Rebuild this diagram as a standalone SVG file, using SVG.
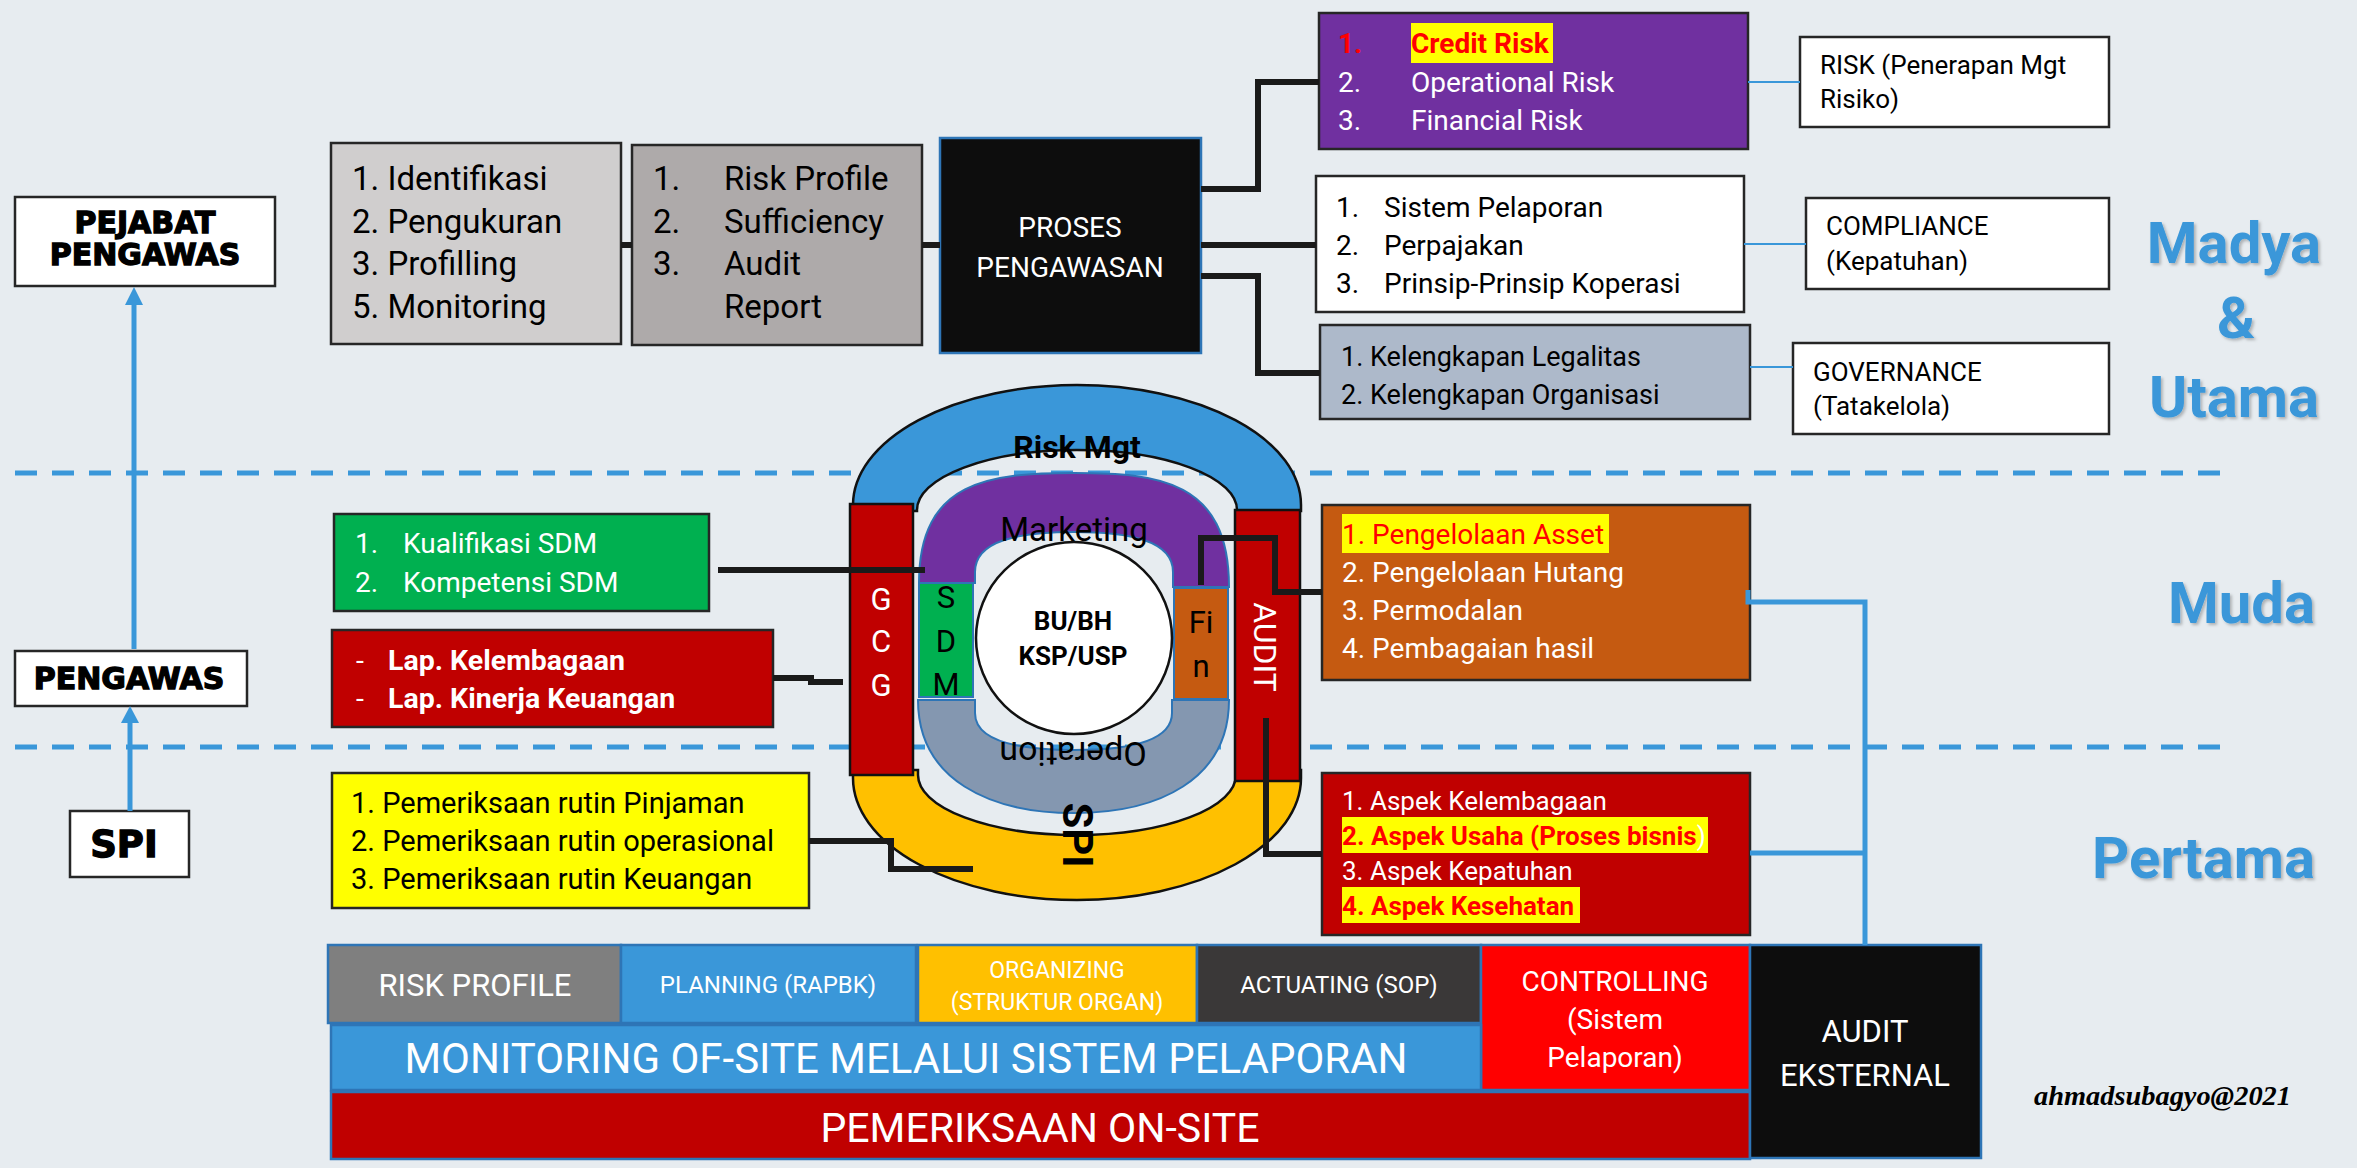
<svg xmlns="http://www.w3.org/2000/svg" width="2357" height="1168" viewBox="0 0 2357 1168">
<style>
text{font-family:Roboto,"Noto Sans",sans-serif;}
.w{fill:#ffffff}
.k{fill:#000000}
.r{fill:#ff0000}
.bd{font-weight:bold}
.mid{text-anchor:middle}
.end{text-anchor:end}
.box{stroke:#262626;stroke-width:2.5}
.bb{stroke:#2E75B6;stroke-width:2.5}
.sh{stroke:#111;stroke-width:2.5}
.conn{fill:none;stroke:#1A1A1A;stroke-width:6}
.thin{fill:none;stroke:#3A97D9;stroke-width:2}
.blue{fill:none;stroke:#3A97D9;stroke-width:5}
.dash{fill:none;stroke:#3A97D9;stroke-width:5;stroke-dasharray:22 15}
.hv{font-family:"DejaVu Sans",sans-serif;font-weight:bold;fill:#000;stroke:#000;stroke-width:1.3}
.lvl{font-weight:bold;fill:#3A97D9;font-size:58px;filter:url(#shd)}
</style>
<defs>
<filter id="shd" x="-10%" y="-10%" width="120%" height="130%">
<feDropShadow dx="2" dy="2" stdDeviation="1.5" flood-color="#000" flood-opacity="0.25"/>
</filter>
</defs>
<rect x="0" y="0" width="2357" height="1168" fill="#E7ECF0"/>

<g id="dashed-lines">
<line class="dash" x1="15" y1="473" x2="2229" y2="473"/>
<line class="dash" x1="15" y1="747" x2="2229" y2="747"/>
</g>

<g id="level-labels">
<text class="lvl mid" x="2234" y="263">Madya</text>
<text class="lvl mid" x="2236" y="338">&amp;</text>
<text class="lvl mid" x="2234" y="417">Utama</text>
<text class="lvl end" x="2315" y="623">Muda</text>
<text class="lvl end" x="2315" y="878">Pertama</text>
</g>

<g id="pejabat-pengawas">
<rect x="15" y="197" width="260" height="89" fill="#fff" class="box"/>
<text class="hv mid" x="145" y="233" font-size="30">PEJABAT</text>
<text class="hv mid" x="145" y="265" font-size="30">PENGAWAS</text>
</g>
<g id="pengawas">
<rect x="15" y="651" width="232" height="55" fill="#fff" class="box"/>
<text class="hv mid" x="129" y="689" font-size="30">PENGAWAS</text>
</g>
<g id="spi">
<rect x="70" y="811" width="119" height="66" fill="#fff" class="box"/>
<text class="hv mid" x="124" y="857" font-size="37">SPI</text>
</g>

<g id="identifikasi">
<rect x="331" y="143" width="290" height="201" fill="#D0CECE" class="box"/>
<g font-size="33" class="k">
<text x="352" y="190">1. Identifikasi</text>
<text x="352" y="232.5">2. Pengukuran</text>
<text x="352" y="275">3. Profilling</text>
<text x="352" y="317.5">5. Monitoring</text>
</g>
</g>
<g id="risk-profile-list">
<rect x="632" y="145" width="290" height="200" fill="#AEAAAA" class="box"/>
<g font-size="33" class="k">
<text x="653" y="190">1.</text><text x="724" y="190">Risk Profile</text>
<text x="653" y="232.5">2.</text><text x="724" y="232.5">Sufficiency</text>
<text x="653" y="275">3.</text><text x="724" y="275">Audit</text>
<text x="724" y="317.5">Report</text>
</g>
</g>
<g id="proses-pengawasan">
<rect x="940" y="138" width="261" height="215" fill="#0D0D0D" class="bb"/>
<text class="w mid" x="1070" y="237" font-size="28">PROSES</text>
<text class="w mid" x="1070" y="277" font-size="28">PENGAWASAN</text>
</g>

<g id="risk-list">
<rect x="1319" y="13" width="429" height="136" fill="#7030A0" class="box"/>
<rect x="1411" y="23" width="142" height="40" fill="#FFFF00"/>
<g font-size="28">
<text class="r bd" x="1338" y="53">1.</text><text class="r bd" x="1411" y="53">Credit Risk</text>
<text class="w" x="1338" y="92">2.</text><text class="w" x="1411" y="92">Operational Risk</text>
<text class="w" x="1338" y="130">3.</text><text class="w" x="1411" y="130">Financial Risk</text>
</g>
</g>
<g id="compliance-list">
<rect x="1316" y="176" width="428" height="136" fill="#fff" class="box"/>
<g font-size="28" class="k">
<text x="1336" y="217">1.</text><text x="1384" y="217">Sistem Pelaporan</text>
<text x="1336" y="255">2.</text><text x="1384" y="255">Perpajakan</text>
<text x="1336" y="293">3.</text><text x="1384" y="293">Prinsip-Prinsip Koperasi</text>
</g>
</g>
<g id="governance-list">
<rect x="1320" y="325" width="430" height="94" fill="#ADB9CA" class="box"/>
<g font-size="27" class="k">
<text x="1341" y="366">1. Kelengkapan Legalitas</text>
<text x="1341" y="404">2. Kelengkapan Organisasi</text>
</g>
</g>
<g id="risk-label">
<rect x="1800" y="37" width="309" height="90" fill="#fff" class="box"/>
<text class="k" x="1820" y="74" font-size="26">RISK (Penerapan Mgt</text>
<text class="k" x="1820" y="108" font-size="26">Risiko)</text>
</g>
<g id="compliance-label">
<rect x="1806" y="198" width="303" height="91" fill="#fff" class="box"/>
<text class="k" x="1826" y="235" font-size="26">COMPLIANCE</text>
<text class="k" x="1826" y="270" font-size="26">(Kepatuhan)</text>
</g>
<g id="governance-label">
<rect x="1793" y="343" width="316" height="91" fill="#fff" class="box"/>
<text class="k" x="1813" y="381" font-size="26">GOVERNANCE</text>
<text class="k" x="1813" y="415" font-size="26">(Tatakelola)</text>
</g>

<g id="sdm-list">
<rect x="334" y="514" width="375" height="97" fill="#00B050" class="box"/>
<g font-size="28" class="w">
<text x="355" y="553">1.</text><text x="403" y="553">Kualifikasi SDM</text>
<text x="355" y="592">2.</text><text x="403" y="592">Kompetensi SDM</text>
</g>
</g>
<g id="lap-list">
<rect x="332" y="630" width="441" height="97" fill="#C00000" class="box"/>
<g font-size="28.5" class="w">
<text x="356" y="670">-</text><text class="bd" x="388" y="670">Lap. Kelembagaan</text>
<text x="356" y="708">-</text><text class="bd" x="388" y="708">Lap. Kinerja Keuangan</text>
</g>
</g>
<g id="pemeriksaan-list">
<rect x="332" y="773" width="477" height="135" fill="#FFFF00" class="box"/>
<g font-size="29" class="k">
<text x="351" y="813">1. Pemeriksaan rutin Pinjaman</text>
<text x="351" y="851">2. Pemeriksaan rutin operasional</text>
<text x="351" y="889">3. Pemeriksaan rutin Keuangan</text>
</g>
</g>

<g id="center-diagram">
<path id="arch-risk-mgt" d="M853,511 L853,505 A224,120 0 0 1 1301,505 L1301,511 L1237,511 L1237,510 A160,60 0 0 0 917,510 L917,511 Z" fill="#3A97D9" class="sh"/>
<path id="arch-spi" d="M853,770 L853,778 A224,122 0 0 0 1301,778 L1301,770 L1236,770 L1236,775 A159,60 0 0 1 918,775 L918,770 Z" fill="#FFC000" class="sh"/>
<path id="arch-marketing" d="M919,583 C919,480 990,473 1074,473 C1158,473 1229,480 1229,587 L1173,587 L1173,572 C1173,540 1128,532 1074,532 C1020,532 975,540 975,572 L975,583 Z" fill="#7030A0" stroke="#2E75B6" stroke-width="2"/>
<path id="arch-operation" d="M918,700 C918,780 990,813 1074,813 C1158,813 1229,780 1229,700 L1172,700 L1172,713 C1172,742 1128,750 1074,750 C1020,750 975,742 975,713 L975,700 Z" fill="#8497B0" stroke="#2E75B6" stroke-width="2"/>
<rect id="sdm" x="919" y="583" width="54" height="114" fill="#00B050" stroke="#2E75B6" stroke-width="2"/>
<rect id="fin" x="1174" y="588" width="54" height="111" fill="#C55A11" stroke="#2E75B6" stroke-width="2"/>
<ellipse id="bu-bh" cx="1074" cy="638" rx="98" ry="96" fill="#fff" class="sh"/>
<rect id="gcg" x="850" y="504" width="63" height="271" fill="#C00000" class="sh"/>
<rect id="audit" x="1235" y="510" width="65" height="271" fill="#C00000" class="sh"/>
<text class="k bd mid" x="1077" y="458" font-size="32">Risk Mgt</text>
<text class="k mid" x="1074" y="541" font-size="33">Marketing</text>
<text class="k mid" x="1073" y="766" font-size="34" transform="rotate(180 1073 754)">Operation</text>
<text class="k bd mid" x="1077" y="849" font-size="42" transform="rotate(90 1077 835)">SPI</text>
<text class="w mid" x="1266" y="659" font-size="32" transform="rotate(90 1266 647)">AUDIT</text>
<g class="w mid" font-size="31">
<text x="881" y="610">G</text><text x="881" y="652">C</text><text x="881" y="696">G</text>
</g>
<g class="k mid" font-size="31">
<text x="946" y="608">S</text><text x="946" y="652">D</text><text x="946" y="695">M</text>
<text x="1201" y="633">Fi</text><text x="1201" y="677">n</text>
</g>
<text class="k bd mid" x="1073" y="630" font-size="26">BU/BH</text>
<text class="k bd mid" x="1073" y="665" font-size="26">KSP/USP</text>
</g>

<g id="aset-list">
<rect x="1322" y="505" width="428" height="175" fill="#C55A11" class="box"/>
<rect x="1342" y="514" width="267" height="39" fill="#FFFF00"/>
<g font-size="28">
<text class="r" x="1342" y="544">1. Pengelolaan Asset</text>
<text class="w" x="1342" y="582">2. Pengelolaan Hutang</text>
<text class="w" x="1342" y="620">3. Permodalan</text>
<text class="w" x="1342" y="658">4. Pembagaian hasil</text>
</g>
</g>
<g id="aspek-list">
<rect x="1322" y="773" width="428" height="162" fill="#C00000" class="box"/>
<rect x="1342" y="817" width="366" height="36" fill="#FFFF00"/>
<rect x="1342" y="887" width="238" height="36" fill="#FFFF00"/>
<g font-size="26">
<text class="w" x="1342" y="810">1. Aspek Kelembagaan</text>
<text class="r bd" x="1342" y="845">2. Aspek Usaha (Proses bisnis<tspan class="w" font-weight="normal">)</tspan></text>
<text class="w" x="1342" y="880">3. Aspek Kepatuhan</text>
<text class="r bd" x="1342" y="915">4. Aspek Kesehatan</text>
</g>
</g>

<g id="bottom-band">
<g id="risk-profile"><rect x="328" y="945" width="293" height="78" fill="#7F7F7F" class="bb"/>
<text class="w mid" x="475" y="996" font-size="31">RISK PROFILE</text></g>
<g id="planning"><rect x="621" y="945" width="295" height="78" fill="#3A97D9" class="bb"/>
<text class="w mid" x="768" y="993" font-size="24">PLANNING (RAPBK)</text></g>
<g id="organizing"><rect x="918" y="945" width="279" height="78" fill="#FFC000" class="bb"/>
<text class="w mid" x="1057" y="978" font-size="23">ORGANIZING</text>
<text class="w mid" x="1057" y="1010" font-size="23">(STRUKTUR ORGAN)</text></g>
<g id="actuating"><rect x="1197" y="945" width="284" height="78" fill="#3A3838" class="bb"/>
<text class="w mid" x="1339" y="993" font-size="24">ACTUATING (SOP)</text></g>
<g id="controlling"><rect x="1481" y="945" width="269" height="145" fill="#FF0000" class="bb"/>
<text class="w mid" x="1615" y="991" font-size="28">CONTROLLING</text>
<text class="w mid" x="1615" y="1029" font-size="28">(Sistem</text>
<text class="w mid" x="1615" y="1067" font-size="28">Pelaporan)</text></g>
<g id="monitoring"><rect x="331" y="1025" width="1150" height="65" fill="#3A97D9" class="bb"/>
<text class="w mid" x="906" y="1073" font-size="42">MONITORING OF-SITE MELALUI SISTEM PELAPORAN</text></g>
<g id="pemeriksaan-onsite"><rect x="331" y="1092" width="1419" height="67" fill="#C00000" class="bb"/>
<text class="w mid" x="1040" y="1142" font-size="41">PEMERIKSAAN ON-SITE</text></g>
<g id="audit-eksternal"><rect x="1750" y="945" width="231" height="213" fill="#0D0D0D" class="bb"/>
<text class="w mid" x="1865" y="1042" font-size="31">AUDIT</text>
<text class="w mid" x="1865" y="1086" font-size="31">EKSTERNAL</text></g>
</g>

<text id="signature" x="2034" y="1105" font-size="28" font-style="italic" font-weight="bold" style="font-family:'Liberation Serif',serif" textLength="257" lengthAdjust="spacingAndGlyphs">ahmadsubagyo@2021</text>

<g id="connectors">
<polyline class="conn" points="621,245 632,245"/>
<polyline class="conn" points="922,245 940,245"/>
<polyline class="conn" points="1201,189 1258,189 1258,82 1319,82"/>
<polyline class="conn" points="1201,245 1316,245"/>
<polyline class="conn" points="1201,276 1258,276 1258,373 1320,373"/>
<polyline class="conn" points="718,570 925,570"/>
<polyline class="conn" points="773,678 811,678 811,682 843,682"/>
<polyline class="conn" points="809,841 891,841 891,869 973,869"/>
<polyline class="conn" points="1201,585 1201,538 1275,538 1275,592 1322,592"/>
<polyline class="conn" points="1266,718 1266,854 1322,854"/>
<line class="thin" x1="1748" y1="82" x2="1800" y2="82"/>
<line class="thin" x1="1744" y1="244" x2="1806" y2="244"/>
<line class="thin" x1="1750" y1="367" x2="1793" y2="367"/>
<polyline class="blue" points="1748,590 1748,602 1865,602 1865,945"/>
<polyline class="blue" points="1750,853 1865,853"/>
<line class="blue" x1="134" y1="649" x2="134" y2="300"/>
<polygon points="134,287 125,305 143,305" fill="#3A97D9"/>
<line class="blue" x1="130" y1="811" x2="130" y2="718"/>
<polygon points="130,706 121,723 139,723" fill="#3A97D9"/>
</g>
</svg>
